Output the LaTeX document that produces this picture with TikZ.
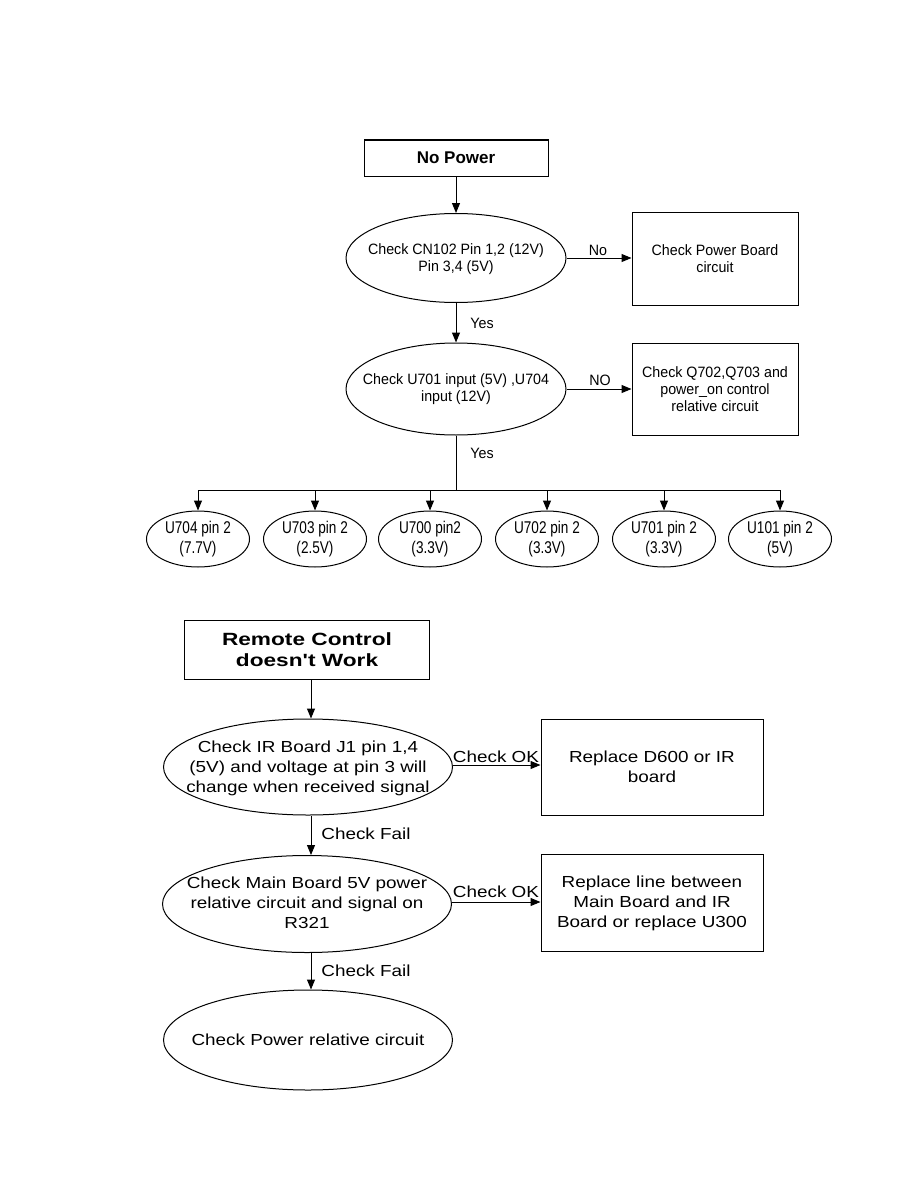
\documentclass[tikz,border=0pt]{standalone}
\usepackage{fontspec}
\setmainfont{Liberation Sans}
\newfontfamily\ftop[FakeStretch=0.95]{Liberation Sans}
\newfontfamily\fsmall[FakeStretch=0.8]{Liberation Sans}
\newfontfamily\fbot[FakeStretch=1.18]{Liberation Sans}
\newfontfamily\frc[FakeStretch=1.28]{Liberation Sans}
\usetikzlibrary{shapes.geometric,arrows.meta}
\begin{document}
\begin{tikzpicture}[x=1pt,y=-1pt,
  line width=1pt,
  arr/.style={-{Triangle[length=10pt,width=8pt]}},
  tfont/.style={font=\ftop\fontsize{15}{17}\selectfont},
  bfont/.style={font=\fbot\fontsize{16}{20}\selectfont},
  sbox/.style={draw,rectangle,inner sep=0pt,align=center,tfont},
  ell/.style={draw,ellipse,inner sep=0pt},
  etxt/.style={inner sep=0pt,align=center},
  lbl/.style={inner sep=0pt,tfont},
  bbox/.style={draw,rectangle,inner sep=0pt,align=center,bfont},
  blbl/.style={inner sep=0pt,bfont}]
\useasboundingbox (0,0) rectangle (918,1188);
% ---------- top chart ----------
\node[sbox,minimum width=184pt,minimum height=36pt,font=\fontsize{17}{20}\selectfont\bfseries] (np) at (456,158) {No Power};
\node[ell,minimum width=220pt,minimum height=89pt] (e1) at (456,258) {};
\node[etxt,tfont] (e1t) at (456,259) {Check CN102 Pin 1,2 (12V)\\Pin 3,4 (5V)};
\node[sbox,minimum width=166pt,minimum height=93pt] (pb) at (715,259) {Check Power Board\\circuit};
\node[ell,minimum width=220pt,minimum height=92pt] (e2) at (456,389) {};
\node[etxt,tfont] (e2t) at (456,389) {Check U701 input (5V) ,U704\\input (12V)};
\node[sbox,minimum width=166pt,minimum height=92pt] (qb) at (715,389) {Check Q702,Q703 and\\power\_on control\\relative circuit};
\draw[arr] (np.south) -- (e1.north);
\draw[arr] (e1.east) -- (e1.east -| pb.west);
\node[lbl] (lno) at (598,250) {No};
\draw[arr] (e1.south) -- (e2.north);
\node[lbl] (lyes1) at (482,323) {Yes};
\draw[arr] (e2.east) -- (e2.east -| qb.west);
\node[lbl] (lno2) at (600,380) {NO};
\node[lbl] (lyes2) at (482,453) {Yes};
% bus
\coordinate (bc) at (456,490);
\coordinate (b1) at (198,490);
\coordinate (b2) at (315,490);
\coordinate (b3) at (430,490);
\coordinate (b4) at (547,490);
\coordinate (b5) at (664,490);
\coordinate (b6) at (780,490);
\draw (e2.south) -- (bc);
\draw (b1) -- (b6);
\foreach \i/\x/\t in {1/198/{U704 pin 2\\(7.7V)},2/315/{U703 pin 2\\(2.5V)},3/430/{U700 pin2\\(3.3V)},4/547/{U702 pin 2\\(3.3V)},5/664/{U701 pin 2\\(3.3V)},6/780/{U101 pin 2\\(5V)}}{
  \node[ell,minimum width=103pt,minimum height=56pt] (s\i) at (\x,539) {};
  \node[etxt,font=\fsmall\fontsize{17}{20}\selectfont] (s\i t) at (\x,539) {\t};
  \draw[arr] (b\i) -- (s\i.north);
}
% ---------- bottom chart ----------
\node[bbox,minimum width=245pt,minimum height=59pt,font=\frc\fontsize{17.7}{20.7}\selectfont\bfseries] (rc) at (307,650) {Remote Control\\doesn't Work};
\node[ell,minimum width=289pt,minimum height=96pt] (m1) at (308,767) {};
\node[etxt,bfont] (m1t) at (308,768) {Check IR Board J1 pin 1,4\\(5V) and voltage at pin 3 will\\change when received signal};
\node[bbox,minimum width=222pt,minimum height=96pt] (r1) at (652,767) {Replace D600 or IR\\board};
\node[ell,minimum width=289pt,minimum height=97pt] (m2) at (307,904) {};
\node[etxt,bfont] (m2t) at (307,903) {Check Main Board 5V power\\relative circuit and signal on\\R321};
\node[bbox,minimum width=222pt,minimum height=97pt] (r2) at (652,903) {Replace line between\\Main Board and IR\\Board or replace U300};
\node[ell,minimum width=289pt,minimum height=100pt] (m3) at (308,1040) {};
\node[etxt,bfont] (m3t) at (308,1040) {Check Power relative circuit};
\coordinate (rcs) at (311,680);
\draw[arr] (rcs) -- (rcs |- m1.north);
\draw[arr] ([yshift=2pt]m1.east) -- ([yshift=2pt]m1.east -| r1.west);
\node[blbl] (ok1) at (496,757) {Check OK};
\draw[arr] (m1.south -| rcs) -- (rcs |- m2.north);
\node[blbl] (f1) at (366,834) {Check Fail};
\draw[arr] ([yshift=2pt]m2.east) -- ([yshift=2pt]m2.east -| r2.west);
\node[blbl] (ok2) at (496,892) {Check OK};
\draw[arr] (m2.south -| rcs) -- (rcs |- m3.north);
\node[blbl] (f2) at (366,971) {Check Fail};
\end{tikzpicture}
\end{document}
